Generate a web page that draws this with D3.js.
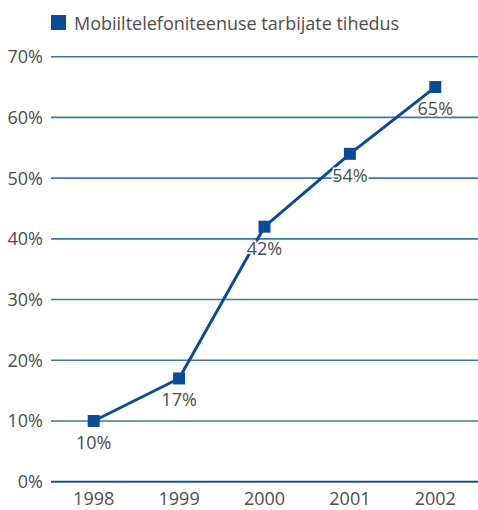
<!DOCTYPE html>
<html>
<head>
<meta charset="utf-8">
<script src="https://cdn.jsdelivr.net/npm/d3@7"></script>
<style>
  body { margin: 0; background: #fff; }
  text { font-family: "Open Sans", "Noto Sans", sans-serif; }
</style>
</head>
<body>
<svg id="Graph"></svg>
<script>
const years = ["1998", "1999", "2000", "2001", "2002"];
const density = [10, 17, 42, 54, 65];
const yTicks = [0, 10, 20, 30, 40, 50, 60, 70];
const legendLabel = "Mobiiltelefoniteenuse tarbijate tihedus";

const w = 478;
const h = 510;
const plotLeft = 51;
const plotTop = 56.7;
const plotBottom = 481.7;
const lineColor = "#0b4a94";
const textColor = "#4d4d4d";

let svg = d3.select("#Graph")
    .attr("width", w)
    .attr("height", h);

//スケール
const xScale = d3.scaleBand()
    .domain(years)
    .range([plotLeft, w]);
const yScale = d3.scaleLinear()
    .domain([0, 70])
    .range([plotBottom, plotTop]);

//グリッド線
svg.append("g")
    .selectAll("line")
    .data(yTicks)
    .enter()
    .append("line")
    .attr("x1", plotLeft)
    .attr("x2", w)
    .attr("y1", d => yScale(d))
    .attr("y2", d => yScale(d))
    .attr("stroke", d => d === 0 ? "#1d4f8c" : "#3f74ad")
    .attr("stroke-width", d => d === 0 ? 2 : 1.6);

//y軸ラベル
svg.append("g")
    .selectAll("text")
    .data(yTicks)
    .enter()
    .append("text")
    .attr("x", 43)
    .attr("y", d => yScale(d))
    .attr("dy", "0.36em")
    .attr("text-anchor", "end")
    .attr("font-size", "18px")
    .attr("fill", textColor)
    .text(d => d + "%");

//x軸ラベル
svg.append("g")
    .selectAll("text")
    .data(years)
    .enter()
    .append("text")
    .attr("x", d => xScale(d) + xScale.bandwidth() / 2)
    .attr("y", 505)
    .attr("text-anchor", "middle")
    .attr("font-size", "18px")
    .attr("fill", textColor)
    .text(d => d);

//折れ線
const line = d3.line()
    .x((d, i) => xScale(years[i]) + xScale.bandwidth() / 2)
    .y(d => yScale(d));

svg.append("path")
    .datum(density)
    .attr("d", line)
    .attr("fill", "none")
    .attr("stroke", lineColor)
    .attr("stroke-width", 3);

//値ラベル(白い縁取り)
svg.append("g")
    .selectAll("text")
    .data(density)
    .enter()
    .append("text")
    .attr("x", (d, i) => xScale(years[i]) + xScale.bandwidth() / 2)
    .attr("y", d => yScale(d) + 28)
    .attr("text-anchor", "middle")
    .attr("font-size", "18px")
    .attr("fill", textColor)
    .attr("stroke", "#fff")
    .attr("stroke-width", 3)
    .attr("paint-order", "stroke")
    .text(d => d + "%");

//マーカー
svg.append("g")
    .selectAll("rect")
    .data(density)
    .enter()
    .append("rect")
    .attr("x", (d, i) => xScale(years[i]) + xScale.bandwidth() / 2 - 6)
    .attr("y", d => yScale(d) - 6)
    .attr("width", 12)
    .attr("height", 12)
    .attr("fill", lineColor);

//凡例
svg.append("rect")
    .attr("x", 51)
    .attr("y", 15)
    .attr("width", 15)
    .attr("height", 15)
    .attr("fill", lineColor);
svg.append("text")
    .attr("x", 74)
    .attr("y", 30)
    .attr("font-size", "18px")
    .attr("fill", textColor)
    .text(legendLabel);
</script>
</body>
</html>
